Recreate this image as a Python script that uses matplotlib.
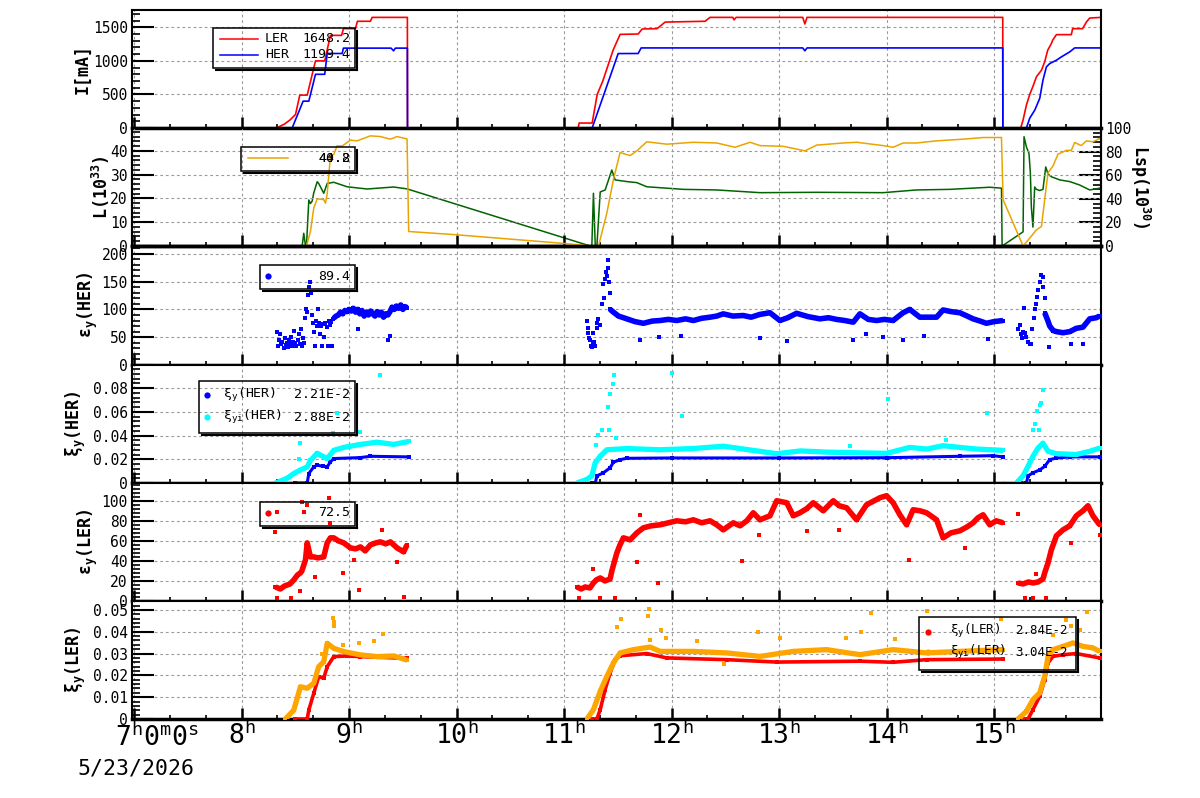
import matplotlib
matplotlib.use("Agg")
import matplotlib.pyplot as plt
from matplotlib.ticker import MultipleLocator, FuncFormatter
from matplotlib.patches import Rectangle
from matplotlib.lines import Line2D

nan = float("nan")

# ---------------- data (time in hours of 5/23/2026) ----------------
ler_t = [6.98, 8.324, 8.40, 8.45, 8.501, 8.541, 8.610, 8.687, 8.773, 8.826, 8.930, 8.947, 9.059, 9.077,
         9.198, 9.214, 9.542, 9.543, 11.131, 11.14, 11.261, 11.308, 11.36, 11.456, 11.521, 11.689, 11.726,
         11.865, 11.940, 12.311, 12.358, 12.57, 12.581, 12.60, 13.22, 13.240, 13.26, 15.081, 15.082, 15.248,
         15.270, 15.301, 15.332, 15.360, 15.394, 15.441, 15.471, 15.499, 15.533, 15.545, 15.580, 15.719,
         15.731, 15.824, 15.859, 15.890, 15.995]
ler_i = [0, 0, 60, 120, 200, 490, 490, 1000, 1000, 1380, 1380, 1480, 1480, 1590,
         1590, 1648, 1648, 0, 0, 74, 74, 500, 700, 1160, 1395, 1400, 1475,
         1480, 1578, 1590, 1648, 1648, 1610, 1648, 1648, 1550, 1648, 1648, 0, 0,
         119, 342, 500, 613, 762, 861, 985, 1158, 1258, 1307, 1391, 1391,
         1480, 1480, 1579, 1638, 1648]
her_t = [6.98, 8.470, 8.572, 8.625, 8.687, 8.773, 8.796, 8.935, 8.947, 9.39, 9.414, 9.43, 9.542, 9.543,
         11.261, 11.503, 11.689, 11.717, 13.22, 13.240, 13.26, 15.081, 15.082, 15.301, 15.332, 15.379,
         15.425, 15.455, 15.487, 15.518, 15.580, 15.626, 15.703, 15.750, 15.995]
her_i = [0, 0, 400, 400, 800, 800, 1110, 1110, 1190, 1190, 1150, 1190, 1190, 0,
         0, 1109, 1110, 1193, 1193, 1150, 1193, 1193, 0, 0, 146, 267,
         441, 713, 910, 960, 1010, 1059, 1133, 1193, 1193]

lum_t = [6.98, 8.603, 8.640, 8.671, 8.703, 8.764, 8.780, 8.796, 8.826, 8.857, 8.888, 8.935, 9.012, 9.074,
         9.198, 9.291, 9.384, 9.446, 9.539, 9.554, 10.004, 10.992, 11.243, 11.320, 11.398, 11.459, 11.521,
         11.614, 11.677, 11.769, 11.955, 12.203, 12.420, 12.590, 12.730, 12.823, 13.039, 13.241, 13.349,
         13.597, 13.721, 13.968, 14.061, 14.154, 14.279, 14.465, 14.712, 14.898, 15.069, 15.084, 15.270,
         15.332, 15.394, 15.441, 15.471, 15.502, 15.548, 15.595, 15.673, 15.719, 15.750, 15.812, 15.859,
         15.920, 15.982]
lum_v = [0, 0, 6.1, 16, 19.8, 19.5, 18, 22, 37.8, 38.5, 42.1, 42, 44.5, 44.2,
         46.3, 46, 44.9, 46, 45, 6.1, 4.7, 1.1, 0, 0, 13.9, 28, 39.3,
         38, 40, 43.8, 42.8, 43.6, 43.3, 41.5, 43.6, 42.2, 41.9, 40, 42.4,
         43.3, 43.6, 42.2, 41.5, 43.3, 43.3, 44.2, 44.9, 45.6, 45.6, 19.5, 0,
         3.3, 6.8, 8.2, 19.5, 30.8, 33.6, 38.6, 40.2, 40.2, 43.5, 42.2, 44.2,
         43.8, 45.2]
lsp_t = [6.98, 8.563, 8.578, 8.594, 8.603, 8.625, 8.640, 8.656, 8.671, 8.703, 8.717, 8.764, 8.796, 8.857,
         8.981, 9.167, 9.414, 9.539, 11.243, 11.258, 11.273, 11.290, 11.305, 11.336, 11.382, 11.444, 11.475,
         11.584, 11.677, 11.769, 12.110, 12.420, 12.823, 13.349, 13.968, 14.279, 14.588, 14.960, 15.069,
         15.075, 15.270, 15.279, 15.301, 15.325, 15.338, 15.347, 15.362, 15.378, 15.394, 15.425, 15.455,
         15.481, 15.502, 15.533, 15.611, 15.704, 15.796, 15.890, 15.982]
lsp_v = [0, 0, 10.8, 0, 0, 39, 36, 38, 45, 54.5, 53, 44.7, 53, 54,
         50.2, 48.3, 50, 48.4, 0, 0, 44.7, 0, 0, 45.8, 47.5, 64.4, 56,
         54.6, 53.7, 50.2, 48, 47.5, 45.2, 45.5, 45.2, 47.5, 48, 49.8, 49,
         0, 12, 92.6, 84, 78.5, 61.6, 33, 16, 50, 48, 47, 48,
         67, 61, 58.7, 56, 54.6, 51.7, 47.5, 49]

# emittance y HER: dense band + loose points
eh_t = [8.86, 8.88, 8.90, 8.92, 8.94, 8.96, 8.98, 9.00, 9.02, 9.04, 9.06, 9.08, 9.10, 9.12, 9.14, 9.16,
        9.18, 9.20, 9.22, 9.24, 9.26, 9.28, 9.30, 9.32, 9.34, 9.36, 9.38, 9.40, 9.42, 9.44, 9.46, 9.48,
        9.50, 9.52, 9.54, nan,
        11.428, 11.459, 11.506, 11.584, 11.66, 11.738, 11.82, 11.893, 11.97, 12.048, 12.13, 12.203,
        12.28, 12.358, 12.42, 12.481, 12.57, 12.667, 12.74, 12.822, 12.915, 13.008, 13.08, 13.163, 13.27,
        13.380, 13.46, 13.535, 13.61, 13.690, 13.752, 13.83, 13.907, 13.98, 14.061, 14.154, 14.216,
        14.309, 14.39, 14.465, 14.526, 14.60, 14.681, 14.75, 14.805, 14.87, 14.929, 15.00, 15.084, nan,
        15.471, 15.50, 15.518, 15.55, 15.580, 15.642, 15.704, 15.766, 15.827, 15.890, 15.95, 15.982]
eh_v = [85, 88, 90, 95, 92, 98, 96, 100, 97, 102, 95, 100, 92, 98, 88, 95,
        90, 97, 92, 88, 96, 90, 95, 86, 92, 90, 96, 104, 100, 106, 102, 108,
        100, 105, 103, nan,
        100, 95, 88, 83, 78, 75, 79, 80, 82, 80, 83, 80,
        84, 86, 88, 92, 88, 89, 86, 91, 94, 80, 85, 93, 87,
        83, 85, 82, 80, 77, 92, 82, 80, 82, 80, 94, 100,
        86, 86, 86, 99, 96, 94, 88, 83, 79, 75, 78, 80, nan,
        94, 80, 70, 62, 60, 58, 60, 66, 68, 83, 85, 88]
eh_pt = [8.33, 8.34, 8.35, 8.36, 8.37, 8.38, 8.39, 8.40, 8.41, 8.42, 8.43, 8.44, 8.45, 8.46, 8.47, 8.48,
         8.49, 8.50, 8.51, 8.52, 8.53, 8.54, 8.55, 8.56, 8.57, 8.58, 8.59, 8.60, 8.61, 8.62, 8.63, 8.64,
         8.645, 8.65, 8.66, 8.67, 8.68, 8.69, 8.70, 8.71, 8.72, 8.73, 8.74, 8.75, 8.76, 8.77, 8.78, 8.79,
         8.80, 8.81, 8.82, 8.83, 8.84, 8.85, 9.08, 9.36, 9.38,
         11.212, 11.22, 11.225, 11.23, 11.243, 11.25, 11.26, 11.27, 11.273, 11.28, 11.29, 11.305, 11.31,
         11.32, 11.336, 11.35, 11.366, 11.375, 11.38, 11.39, 11.398, 11.405, 11.413, 11.42, 11.428,
         11.71, 11.88, 12.09, 12.82, 13.07, 13.69, 13.81, 13.97, 14.15, 14.35, 14.94,
         15.223, 15.24, 15.25, 15.26, 15.270, 15.28, 15.29, 15.30, 15.316, 15.33, 15.35, 15.37, 15.378,
         15.39, 15.40, 15.41, 15.425, 15.44, 15.455, 15.46, 15.471, 15.51, 15.72, 15.83, 15.34]
eh_pv = [60, 35, 45, 55, 38, 42, 30, 48, 36, 40, 33, 45, 38, 50, 35, 42,
         62, 40, 34, 45, 55, 38, 65, 35, 48, 40, 85, 100, 95, 125, 140, 150,
         130, 90, 75, 60, 35, 80, 70, 100, 75, 55, 70, 35, 73, 50, 75, 68,
         35, 80, 72, 78, 35, 82, 65, 45, 52,
         80, 58, 66, 49, 45, 35, 32, 38, 58, 42, 35, 66, 75,
         82, 72, 110, 145, 120, 155, 168, 160, 175, 188, 150, 130,
         45, 50, 52, 49, 43, 45, 56, 50, 45, 52, 47,
         65, 72, 55, 48, 60, 103, 58, 50, 42, 38, 65, 85, 100,
         110, 123, 135, 150, 162, 158, 140, 120, 32, 37, 37, 38]

# beam-beam parameter HER
xh_t = [8.501, 8.610, 8.625, 8.671, 8.703, 8.76, 8.796, 8.826, 8.857, 9.105, 9.198, 9.554, nan,
        11.258, 11.29, 11.305, 11.366, 11.428, 11.459, 11.521, 11.584, 12.0, 13.0, 14.0, 14.681, 14.991,
        15.084, nan,
        15.255, 15.301, 15.316, 15.362, 15.425, 15.471, 15.518, 15.580, 15.704, 15.982]
xh_v = [0, 0, 0.008, 0.0136, 0.015, 0.014, 0.0136, 0.0178, 0.0206, 0.0214, 0.0225, 0.022, nan,
        0, 0, 0.006, 0.0086, 0.0128, 0.0175, 0.0197, 0.0208, 0.0211, 0.0211, 0.0213, 0.0225, 0.023,
        0.022, nan,
        0, 0, 0.006, 0.0086, 0.011, 0.014, 0.0197, 0.021, 0.022, 0.022]
xhi_t = [8.315, 8.424, 8.485, 8.547, 8.610, 8.640, 8.703, 8.796, 8.857, 8.950, 9.105, 9.260, 9.415, 9.554,
         nan,
         11.119, 11.212, 11.258, 11.289, 11.336, 11.398, 11.584, 11.893, 12.2, 12.481, 12.978, 13.2,
         13.442, 13.7, 14.000, 14.216, 14.372, 14.526, 14.681, 14.836, 15.084, nan,
         15.208, 15.270, 15.316, 15.362, 15.409, 15.455, 15.502, 15.580, 15.766, 15.890, 15.982]
xhi_v = [0, 0.004, 0.008, 0.011, 0.0136, 0.019, 0.025, 0.0205, 0.0275, 0.030, 0.0325, 0.0344, 0.0325,
         0.035, nan,
         0, 0.003, 0.006, 0.017, 0.0225, 0.028, 0.029, 0.028, 0.029, 0.031, 0.0247, 0.027,
         0.026, 0.0255, 0.025, 0.030, 0.0286, 0.0314, 0.030, 0.0286, 0.0275, nan,
         0, 0.006, 0.014, 0.0225, 0.0294, 0.0336, 0.0267, 0.0247, 0.024, 0.0267, 0.0294]
xhi_pt = [8.547, 8.532, 9.291, 8.888, 8.851, 9.099, 11.468, 11.459, 11.428, 11.413, 11.351, 11.422,
          11.320, 11.298, 11.484, 12.008, 12.100, 14.015, 14.935, 13.659, 14.551, 15.455, 15.434, 15.425,
          15.403, 15.381, 15.362, 15.418, 15.09]
xhi_pv = [0.0336, 0.0206, 0.091, 0.059, 0.042, 0.043, 0.0906, 0.083, 0.0753, 0.064, 0.0447, 0.0447,
          0.0406, 0.032, 0.038, 0.0925, 0.0564, 0.0711, 0.0592, 0.031, 0.036, 0.0786, 0.0678, 0.0656,
          0.0606, 0.050, 0.045, 0.045, 0.0]

# emittance y LER
el_t = [8.315, 8.36, 8.40, 8.45, 8.485, 8.52, 8.547, 8.56, 8.594, 8.61, 8.64, 8.671, 8.71, 8.764,
        8.796, 8.826, 8.857, 8.90, 8.950, 9.012, 9.06, 9.105, 9.15, 9.198, 9.25, 9.291, 9.34, 9.384,
        9.446, 9.507, 9.539, nan,
        11.119, 11.16, 11.196, 11.24, 11.273, 11.30, 11.336, 11.38, 11.428, 11.444, 11.475, 11.491,
        11.52, 11.552, 11.614, 11.677, 11.738, 11.81, 11.893, 11.97, 12.048, 12.13, 12.203, 12.28,
        12.358, 12.42, 12.481, 12.574, 12.637, 12.70, 12.760, 12.822, 12.915, 12.978, 13.071, 13.132,
        13.194, 13.256, 13.318, 13.411, 13.504, 13.559, 13.628, 13.721, 13.814, 13.938, 14.000, 14.061,
        14.124, 14.186, 14.247, 14.31, 14.372, 14.465, 14.526, 14.60, 14.681, 14.75, 14.805, 14.85,
        14.898, 14.960, 15.02, 15.084, nan,
        15.223, 15.27, 15.32, 15.362, 15.41, 15.455, 15.471, 15.502, 15.533, 15.580, 15.642, 15.704,
        15.766, 15.827, 15.874, 15.920, 15.982]
el_v = [14, 12, 15, 17, 21, 26, 28, 30, 41, 58, 44, 44, 43, 44,
        58, 63, 63, 60, 58, 53, 52, 54, 50, 56, 58, 59, 57, 59,
        53, 49, 56, nan,
        14, 12, 14, 13, 18, 21, 23, 20, 22, 30, 42, 48,
        56, 63, 61, 68, 73, 75, 76, 78, 80, 79, 81, 78,
        80, 76, 71, 78, 75, 80, 88, 81, 85, 100, 98, 85,
        88, 92, 98, 90, 100, 95, 93, 81, 96, 103, 105, 98,
        86, 76, 91, 90, 88, 81, 63, 68, 70, 74, 78, 83,
        86, 76, 80, 78, nan,
        18, 17, 19, 18, 19, 22, 28, 38, 51, 65, 71, 75,
        85, 90, 95, 85, 76]
el_pt = [8.331, 8.455, 8.541, 8.315, 8.331, 8.563, 8.578, 8.610, 8.810, 8.826, 8.944, 9.096, 9.507,
         9.307, 9.043, 9.446, 8.687,
         11.134, 11.336, 11.475, 11.877, 12.652, 14.210, 14.728, 13.256, 13.559, 11.707, 11.677, 11.273,
         12.816,
         15.223, 15.285, 15.362, 15.487, 15.388, 15.719, 15.982]
el_pv = [2.7, 3, 10, 69, 89, 99, 89, 96, 103, 78, 28, 11, 3.7,
         71, 41, 39, 24,
         3, 3, 3, 18, 40, 41, 53, 70, 71, 86, 39, 32,
         66,
         87, 3, 3, 3, 27, 58, 66]

# beam-beam parameter LER
xl_t = [8.501, 8.610, 8.625, 8.671, 8.717, 8.764, 8.796, 8.857, 8.981, 9.105, 9.539, nan,
        11.258, 11.305, 11.336, 11.382, 11.428, 11.475, 11.521, 11.769, 11.955, 12.513, 12.978, 13.752,
        14.061, 14.372, 15.084, nan,
        15.270, 15.316, 15.362, 15.425, 15.471, 15.502, 15.548, 15.642, 15.766, 15.982]
xl_v = [0, 0, 0.0041, 0.0118, 0.0194, 0.0187, 0.024, 0.0286, 0.0289, 0.0286, 0.0278, nan,
        0, 0, 0.0043, 0.0135, 0.0211, 0.0272, 0.029, 0.030, 0.028, 0.0272, 0.0261, 0.0265,
        0.026, 0.0272, 0.0275, nan,
        0, 0, 0.0043, 0.0104, 0.018, 0.0257, 0.0287, 0.0295, 0.030, 0.028]
xli_t = [8.408, 8.485, 8.547, 8.610, 8.671, 8.717, 8.764, 8.796, 8.857, 8.950, 9.105, 9.260, 9.415,
         9.539, nan,
         11.212, 11.273, 11.336, 11.398, 11.459, 11.521, 11.645, 11.800, 11.893, 12.203, 12.513, 12.822,
         13.132, 13.442, 13.752, 14.061, 14.372, 14.681, 15.084, nan,
         15.223, 15.301, 15.362, 15.425, 15.471, 15.502, 15.548, 15.642, 15.734, 15.827, 15.920, 15.982]
xli_v = [0, 0.0041, 0.0148, 0.0141, 0.0164, 0.024, 0.0263, 0.0347, 0.0324, 0.0309, 0.0294, 0.0286,
         0.0289, 0.027, nan,
         0, 0.0043, 0.0127, 0.0196, 0.0257, 0.0303, 0.0318, 0.033, 0.031, 0.031, 0.0303, 0.0287,
         0.031, 0.0318, 0.0295, 0.0318, 0.0303, 0.031, 0.0318, nan,
         0, 0.0035, 0.0089, 0.012, 0.0196, 0.0287, 0.0318, 0.0333, 0.0349, 0.0333, 0.0326, 0.031]
xli_pt = [8.851, 8.857, 8.863, 9.316, 9.089, 9.229, 8.944, 8.749, 11.528, 11.496, 11.791, 11.784,
          11.902, 11.949, 12.234, 12.807, 13.008, 13.622, 13.761, 13.854, 14.372, 14.074, 12.488, 11.800,
          15.864, 15.666, 15.719, 15.548, 15.063, 15.796]
xli_pv = [0.0465, 0.0446, 0.0427, 0.039, 0.035, 0.0358, 0.034, 0.0298, 0.0459, 0.042, 0.0505, 0.0474,
          0.041, 0.0372, 0.0356, 0.0398, 0.0372, 0.0372, 0.0398, 0.0486, 0.0494, 0.0369, 0.025, 0.0364,
          0.049, 0.0453, 0.0425, 0.0387, 0.0459, 0.041]

hour_ticks = [7, 8, 9, 10, 11, 12, 13, 14, 15]
hour_labels = ["", "$8^{h}$", "$9^{h}$", "$10^{h}$", "$11^{h}$", "$12^{h}$", "$13^{h}$", "$14^{h}$", "$15^{h}$"]

# ---------------- style ----------------
plt.rcParams["font.family"] = "DejaVu Sans Mono"
plt.rcParams["mathtext.fontset"] = "custom"
plt.rcParams["mathtext.rm"] = "DejaVu Sans Mono"
plt.rcParams["mathtext.it"] = "DejaVu Sans Mono"
plt.rcParams["mathtext.bf"] = "DejaVu Sans Mono:bold"

RED = "#ff0000"
BLUE = "#0000ff"
CYAN = "#00ffff"
ORANGE = "#ffa500"
LORANGE = "#eaa400"
GREEN = "#006400"

W, H = 1200, 798
fig = plt.figure(figsize=(12, 7.98), dpi=100)


def fx(x):
    return x / W


def fy(y):
    return 1 - y / H


tops = [10, 128, 246, 365, 483, 601, 719]
ylims = [(0, 1758), (0, 49.6), (0, 214), (0, 0.0994), (0, 117.7), (0, 0.0541)]
ymaj = [500, 10, 50, 0.02, 20, 0.01]
ymin = [100, 2, 10, 0.004, 4, 0.002]
fmt = FuncFormatter(lambda v, p: "0" if abs(v) < 1e-12 else "%g" % v)

axes = []
for i in range(6):
    ax = fig.add_axes([fx(132), fy(tops[i + 1]), fx(1101) - fx(132), (tops[i + 1] - tops[i]) / H])
    ax.set_xlim(6.98, 15.995)
    ax.set_ylim(*ylims[i])
    ax.xaxis.set_major_locator(MultipleLocator(1))
    ax.xaxis.set_minor_locator(MultipleLocator(1 / 3))
    ax.yaxis.set_major_locator(MultipleLocator(ymaj[i]))
    ax.yaxis.set_minor_locator(MultipleLocator(ymin[i]))
    ax.yaxis.set_major_formatter(fmt)
    ax.tick_params(axis="y", which="major", direction="in", length=16, width=1.5, labelsize=10.5, pad=3,
                   right=False)
    ax.tick_params(axis="y", which="minor", direction="in", length=6, width=1.2, right=False)
    ax.tick_params(axis="x", which="major", direction="in", length=8, width=1.8, top=False,
                   labelbottom=False)
    ax.tick_params(axis="x", which="minor", direction="in", length=3, width=1.2, top=False)
    ax.grid(True, which="major", color="#9a9a9a", ls=(0, (2.5, 2.5)), lw=0.8)
    for s in ax.spines.values():
        s.set_linewidth(1.5)
    ax.spines["bottom"].set_linewidth(2.5)
    axes.append(ax)


def band(ax, t, v, c, lw):
    ax.plot(t, v, color=c, lw=lw, solid_capstyle="butt", zorder=3)
    ax.plot(t, v, "s", color=c, ms=3.5, mew=0, zorder=3)


def pts(ax, t, v, c):
    ax.plot(t, v, "s", color=c, ms=3, mew=0, ls="none", zorder=3)


# panel 1: currents
ax = axes[0]
ax.plot(ler_t, ler_i, color=RED, lw=1.2)
ax.plot(her_t, her_i, color=BLUE, lw=1.2)

# panel 2: luminosity (left) and specific luminosity (right)
ax = axes[1]
ax2 = ax.twinx()
ax2.set_ylim(0, 100)
ax2.yaxis.set_major_locator(MultipleLocator(20))
ax2.yaxis.set_minor_locator(MultipleLocator(4))
ax2.yaxis.set_major_formatter(fmt)
ax2.tick_params(axis="y", which="major", direction="in", length=16, width=1.5, labelsize=10.5, pad=3)
ax2.tick_params(axis="y", which="minor", direction="in", length=6, width=1.2)
for s in ax2.spines.values():
    s.set_linewidth(1.5)
ax2.spines["bottom"].set_linewidth(2.5)
ax2.plot(lsp_t, lsp_v, color=GREEN, lw=1.1)
ax.set_zorder(ax2.get_zorder() + 1)
ax.patch.set_visible(False)
ax.plot(lum_t, lum_v, color=LORANGE, lw=1.1)

# panel 3: emittance HER
band(axes[2], eh_t, eh_v, BLUE, 4)
pts(axes[2], eh_pt, eh_pv, BLUE)

# panel 4: xi HER
band(axes[3], xh_t, xh_v, BLUE, 2.2)
band(axes[3], xhi_t, xhi_v, CYAN, 3.8)
pts(axes[3], xhi_pt, xhi_pv, CYAN)

# panel 5: emittance LER
band(axes[4], el_t, el_v, RED, 4)
pts(axes[4], el_pt, el_pv, RED)

# panel 6: xi LER
band(axes[5], xl_t, xl_v, RED, 2.6)
band(axes[5], xli_t, xli_v, ORANGE, 3.8)
pts(axes[5], xli_pt, xli_pv, ORANGE)

# bottom time axis
axb = axes[5]
axb.set_xticks(hour_ticks)
axb.set_xticklabels(hour_labels)
axb.tick_params(axis="x", which="major", labelbottom=True, labelsize=19, pad=2)
fig.text(fx(115), fy(738), "$7^{h}0^{m}0^{s}$", fontsize=19, ha="left", va="center")
fig.text(fx(77), fy(768), "5/23/2026", fontsize=15.5, ha="left", va="center")

# axis titles
ylab = [(83, 69, "I[mA]"), (101, 187, "L(10$^\\mathbf{33}$)"), (88, 305, "ε$_\\mathbf{y}$(HER)"),
        (76, 424, "ξ$_\\mathbf{y}$(HER)"), (88, 542, "ε$_\\mathbf{y}$(LER)"), (76, 660, "ξ$_\\mathbf{y}$(LER)")]
for x, y, s in ylab:
    fig.text(fx(x), fy(y), s, rotation=90, ha="center", va="center", fontsize=12, fontweight="bold")
fig.text(fx(1140), fy(187), "Lsp(10$^\\mathbf{30}$)", rotation=270, ha="center", va="center",
         fontsize=12, fontweight="bold")


# legends (ROOT style, transparent with shadow)
def legend_box(x0, y0, x1, y1):
    fig.patches.append(Rectangle((fx(x0), fy(y1)), fx(x1) - fx(x0), fy(y0) - fy(y1), transform=fig.transFigure,
                                 fill=False, ec="black", lw=1.1, zorder=5))
    fig.lines.append(Line2D([fx(x1 + 1.5), fx(x1 + 1.5)], [fy(y0 + 3), fy(y1 + 1.5)],
                            transform=fig.transFigure, color="black", lw=1.5, zorder=5))
    fig.lines.append(Line2D([fx(x0 + 3), fx(x1 + 1.5)], [fy(y1 + 1.5), fy(y1 + 1.5)],
                            transform=fig.transFigure, color="black", lw=1.5, zorder=5))


def leg_line(x0, x1, y, c):
    fig.lines.append(Line2D([fx(x0), fx(x1)], [fy(y), fy(y)], transform=fig.transFigure, color=c, lw=1.1,
                            zorder=5))


def leg_dot(x, y, c):
    fig.lines.append(Line2D([fx(x)], [fy(y)], transform=fig.transFigure, color=c, marker="o", ms=4.5,
                            mew=0, ls="none", zorder=5))


def leg_text(x, y, s, ha="left", size=9.5):
    fig.text(fx(x), fy(y), s, fontsize=size, ha=ha, va="center", zorder=6)


legend_box(213, 28, 355, 68)
leg_line(220, 258, 39, RED)
leg_line(220, 258, 55, BLUE)
leg_text(265, 39, "LER")
leg_text(265, 55, "HER")
leg_text(350, 39, "1648.2", "right")
leg_text(350, 55, "1199.4", "right")

legend_box(241, 147, 355, 171)
leg_line(248, 288, 158, LORANGE)
leg_text(350, 159, "40.8", "right")
leg_text(350, 159, "44.2", "right")

legend_box(260, 265, 355, 289)
leg_dot(268, 276, BLUE)
leg_text(350, 276, "89.4", "right")

legend_box(199, 381, 355, 433)
leg_dot(207, 395, BLUE)
leg_dot(207, 417, CYAN)
leg_text(223, 395, "ξ$_\\mathrm{y}$(HER)")
leg_text(223, 417, "ξ$_\\mathrm{yi}$(HER)")
leg_text(350, 395, "2.21E-2", "right")
leg_text(350, 417, "2.88E-2", "right")

legend_box(260, 502, 355, 526)
leg_dot(268, 513, RED)
leg_text(350, 513, "72.5", "right")

legend_box(919, 617, 1076, 670)
leg_dot(928, 632, RED)
leg_dot(928, 652, ORANGE)
leg_text(950, 631, "ξ$_\\mathrm{y}$(LER)", size=9)
leg_text(950, 652, "ξ$_\\mathrm{yi}$(LER)", size=9)
leg_text(1068, 631, "2.84E-2", "right", size=9)
leg_text(1068, 652, "3.04E-2", "right", size=9)

fig.savefig("out.png", dpi=100)
